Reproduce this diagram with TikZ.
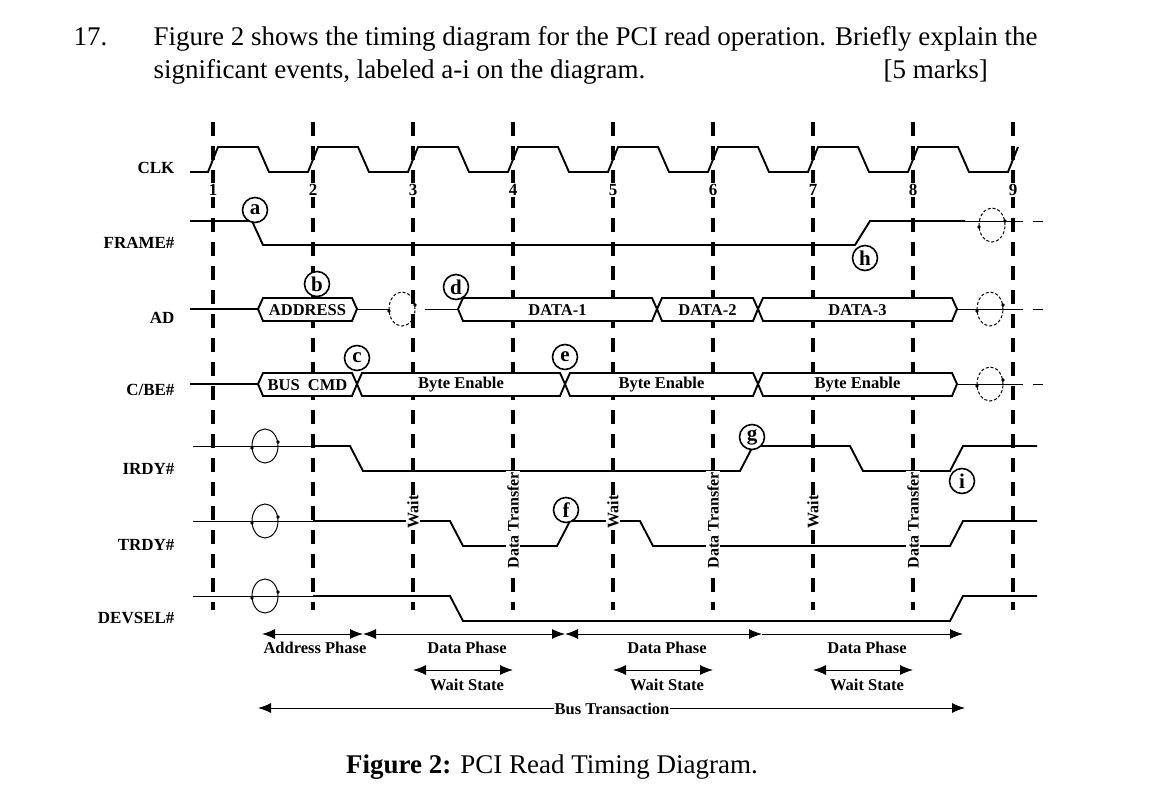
\documentclass[tikz,border=0pt]{standalone}
\usepackage{fontspec}
\setmainfont{Liberation Serif}
\usetikzlibrary{arrows.meta}
\begin{document}
\begin{tikzpicture}[x=1pt,y=-1pt,
  sig/.style={line width=1.9pt,line join=miter},
  grid/.style={line width=3.2pt,dash pattern=on 14pt off 10pt},
  lab/.style={font=\bfseries\fontsize{17}{17}\selectfont,anchor=east},
  bl/.style={font=\bfseries\fontsize{16.5}{17}\selectfont},
  ev/.style={circle,draw,line width=1.6pt,fill=white,inner sep=0pt,minimum size=25pt,font=\bfseries\fontsize{21}{21}\selectfont},
  vl/.style={rotate=90,fill=white,inner sep=1pt,font=\bfseries\fontsize{16}{16}\selectfont},
  loop/.style={line width=1pt},
  ph/.style={line width=1pt,{Latex[length=13pt,width=10pt]}-{Latex[length=13pt,width=10pt]}}]
\useasboundingbox (0,0) rectangle (1153,795);
\newcommand{\busseg}[4]{\draw[sig,fill=white] (#1,309+#3) -- (#1+5,298+#3) -- (#2-5,298+#3) -- (#2,309+#3) -- (#2-5,321+#3) -- (#1+5,321+#3) -- cycle; \node[bl] at ({(#1+#2)/2},310+#3) {#4};}
\newcommand{\lp}[3]{\draw[loop,#3] (#1,#2) ellipse (13pt and 17pt); \fill (#1-13,#2+2) circle (1.8pt); \fill (#1+13,#2-4) circle (1.8pt);}
% header
\node[anchor=base west,font=\fontsize{27}{28}\selectfont] at (70,45) {17.};
\node[anchor=base west,font=\fontsize{27}{28}\selectfont] at (150,45) {Figure 2 shows the timing diagram for the PCI read operation. Briefly explain the};
\node[anchor=base west,font=\fontsize{27}{28}\selectfont] at (150,78) {significant events, labeled a-i on the diagram.};
\node[anchor=base west,font=\fontsize{27}{28}\selectfont] at (880,78) {[5 marks]};
\node[anchor=base,font=\fontsize{27}{28}\selectfont] at (552,773) {\textbf{Figure 2:} PCI Read Timing Diagram.};
% grid
\foreach \i in {1,...,9} {
  \draw[grid] (113+100*\i,122) -- (113+100*\i,610);
  \node[fill=white,inner sep=1pt,font=\bfseries\fontsize{17}{17}\selectfont] at (113+100*\i,190) {\i};
}
% labels
\node[lab] at (178,168) {CLK};
\node[lab] at (178,243) {FRAME\#};
\node[lab] at (178,318) {AD};
\node[lab] at (178,390) {C/BE\#};
\node[lab] at (178,469) {IRDY\#};
\node[lab] at (178,545) {TRDY\#};
\node[lab] at (178,618) {DEVSEL\#};
% clock
\draw[sig] (190,172) \foreach \c in {213,313,...,913} { -- (\c-5,172) -- (\c+5,147) -- (\c+45,147) -- (\c+56,172) } -- (1008,172) -- (1018,147);
% FRAME
\draw[sig] (190,221) -- (252,221) -- (263,245) -- (855,245) -- (870,221) -- (965,221);
\lp{992}{225}{densely dashed}
\draw[loop] (965,221) -- (1013,221);
\draw[loop,dash pattern=on 10pt off 10pt] (1013,221) -- (1050,221);
% AD
\draw[sig] (190,309) -- (258,309);
\draw[loop] (357,309) -- (390,309) (425,309) -- (458,309);
\lp{402}{309}{densely dashed}
\busseg{258}{357}{0}{ADDRESS}
\busseg{458}{657}{0}{DATA-1}
\busseg{657}{758}{0}{DATA-2}
\busseg{758}{957}{0}{DATA-3}
\draw[loop] (957,309) -- (1013,309);
\draw[loop,dash pattern=on 10pt off 10pt] (1013,309) -- (1050,309);
\lp{990}{309}{densely dashed}
% C/BE
\draw[sig] (190,384) -- (258,384);
\busseg{258}{357}{75}{BUS\ \ CMD}
\busseg{357}{565}{75}{Byte Enable}
\busseg{565}{758}{75}{Byte Enable}
\busseg{758}{957}{75}{Byte Enable}
\draw[loop] (957,384) -- (1013,384);
\draw[loop,dash pattern=on 10pt off 10pt] (1013,384) -- (1050,384);
\lp{990}{384}{densely dashed}
% IRDY
\draw[loop] (193,446) -- (313,446);
\draw[sig] (313,446) -- (350,446) -- (363,471) -- (740,471) -- (753,446) -- (850,446) -- (863,471) -- (950,471) -- (963,446) -- (1037,446);
\lp{265}{446}{}
% TRDY
\draw[loop] (193,521) -- (313,521);
\draw[sig] (313,521) -- (450,521) -- (463,546) -- (557,546) -- (570,521) -- (640,521) -- (653,546) -- (950,546) -- (963,521) -- (1037,521);
\lp{265}{521}{}
% DEVSEL
\draw[loop] (193,596) -- (313,596);
\draw[sig] (313,596) -- (450,596) -- (463,621) -- (950,621) -- (963,596) -- (1037,596);
\lp{265}{596}{}
% vertical labels
\foreach \x in {413,613,813} \node[vl] at (\x,512) {Wait};
\foreach \x in {513,713,913} \node[vl] at (\x,520) {Data Transfer};
% events
\node[ev] at (255,210) {a};
\node[ev] at (317,284) {b};
\node[ev] at (357,358) {c};
\node[ev] at (456,287) {d};
\node[ev] at (565,357) {e};
\node[ev] at (566,510) {f};
\node[ev] at (752,437) {g};
\node[ev] at (865,258) {h};
\node[ev] at (962,481) {i};
% phases
\draw[ph] (262,634) -- (363,634);
\draw[ph] (363,634) -- (565,634);
\draw[ph] (565,634) -- (762,634);
\draw[line width=1pt,-{Latex[length=13pt,width=10pt]}] (762,634) -- (963,634);
\node[bl] at (315,648) {Address Phase};
\foreach \x in {467,667,867} {
  \node[bl] at (\x,648) {Data Phase};
  \draw[ph] (\x-54,670) -- (\x+46,670);
  \node[bl] at (\x,685) {Wait State};
}
\draw[ph] (258,708) -- (965,708);
\node[bl,fill=white,inner sep=1pt] at (612,709) {Bus Transaction};
\end{tikzpicture}
\end{document}
